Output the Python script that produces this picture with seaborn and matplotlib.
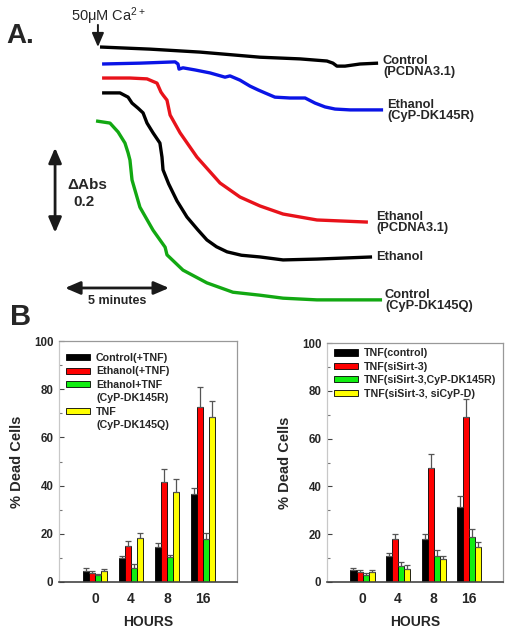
import matplotlib
matplotlib.use("Agg")
import matplotlib.pyplot as plt
from matplotlib.patches import Patch
import pandas as pd
import seaborn as sns

# ---------------- Panel A data: time (min) after Ca2+ addition, relative ΔAbs ----------------
ctrl_pc_t = [0.0, 2.40, 4.81, 7.69, 9.62, 10.91, 11.20, 11.39, 11.78, 12.50, 13.37]
ctrl_pc_a = [0.0, -0.005, -0.012, -0.024, -0.028, -0.033, -0.038, -0.045, -0.045, -0.040, -0.038]

eth_r_t = [0.10, 1.92, 3.61, 3.75, 3.80, 3.99, 4.57, 5.29, 6.01, 6.25, 6.73, 7.21, 7.60, 7.93,
           8.41, 9.13, 9.86, 10.34, 10.82, 11.30, 12.02, 13.61]
eth_r_a = [-0.040, -0.038, -0.035, -0.040, -0.052, -0.049, -0.054, -0.061, -0.071, -0.068, -0.078,
           -0.092, -0.101, -0.108, -0.118, -0.120, -0.120, -0.132, -0.141, -0.146, -0.148, -0.148]

eth_pc_t = [0.10, 1.44, 2.26, 2.74, 2.93, 3.03, 3.22, 3.37, 3.85, 4.66, 5.77, 6.73, 7.69, 8.80, 10.43, 12.88]
eth_pc_a = [-0.073, -0.073, -0.075, -0.085, -0.106, -0.113, -0.125, -0.160, -0.202, -0.259, -0.320,
            -0.353, -0.374, -0.393, -0.407, -0.412]

eth_t = [0.10, 0.96, 1.35, 1.54, 1.83, 2.07, 2.26, 2.55, 2.88, 2.98, 3.03, 3.30, 3.70, 4.18, 4.70,
         5.14, 5.60, 6.11, 6.80, 7.69, 8.80, 10.43, 13.08]
eth_a = [-0.108, -0.108, -0.118, -0.132, -0.144, -0.155, -0.179, -0.202, -0.226, -0.259, -0.289,
         -0.322, -0.362, -0.400, -0.430, -0.454, -0.470, -0.482, -0.490, -0.494, -0.501, -0.499, -0.494]

ctrl_q_t = [-0.19, 0.48, 0.87, 1.20, 1.35, 1.44, 1.54, 1.92, 2.55, 3.13, 3.22, 3.99, 5.14, 6.39,
            7.69, 8.80, 10.43, 13.56]
ctrl_q_a = [-0.174, -0.179, -0.200, -0.226, -0.249, -0.266, -0.313, -0.377, -0.431, -0.471, -0.489,
            -0.525, -0.555, -0.577, -0.584, -0.591, -0.595, -0.595]

trace_labels = ["Control\n(PCDNA3.1)", "Ethanol\n(CyP-DK145R)", "Ethanol\n(PCDNA3.1)",
                "Ethanol", "Control\n(CyP-DK145Q)"]
trace_colors = ["#000000", "#0a14e6", "#e8121a", "#000000", "#12a812"]

# ---------------- Panel B data ----------------
hours = ["0", "4", "8", "16"]

left_series = ["Control(+TNF)", "Ethanol(+TNF)", "Ethanol+TNF\n(CyP-DK145R)", "TNF\n(CyP-DK145Q)"]
left_ctrl = [4.7, 9.8, 14.4, 36.4]
left_eth = [3.9, 14.9, 41.4, 72.5]
left_eth_r = [2.9, 5.9, 10.2, 17.8]
left_tnf_q = [4.6, 18.1, 37.2, 68.3]
left_ctrl_err = [1.1, 1.0, 1.7, 2.5]
left_eth_err = [0.7, 2.0, 5.6, 8.3]
left_eth_r_err = [0.6, 1.4, 1.0, 2.4]
left_tnf_q_err = [0.8, 2.3, 5.7, 6.9]

right_series = ["TNF(control)", "TNF(siSirt-3)", "TNF(siSirt-3,CyP-DK145R)", "TNF(siSirt-3, siCyP-D)"]
right_ctrl = [5.2, 10.9, 17.9, 31.4]
right_sirt = [4.2, 17.9, 47.9, 69.0]
right_sirt_r = [3.1, 6.7, 10.8, 18.8]
right_sirt_cyp = [4.2, 5.6, 9.5, 14.6]
right_ctrl_err = [0.7, 1.4, 2.3, 4.5]
right_sirt_err = [1.0, 2.3, 5.8, 7.7]
right_sirt_r_err = [0.7, 1.7, 2.4, 3.5]
right_sirt_cyp_err = [1.0, 1.4, 1.4, 2.1]

bar_colors = ["#000000", "#ff0000", "#11ee11", "#ffff00"]

# ---------------- style ----------------
sns.set_theme(style="white")
plt.rcParams["font.family"] = ["Liberation Sans", "DejaVu Sans"]
plt.rcParams["mathtext.fontset"] = "custom"
plt.rcParams["mathtext.rm"] = "Liberation Sans"
plt.rcParams["mathtext.it"] = "Liberation Sans:italic"
plt.rcParams["mathtext.bf"] = "Liberation Sans:bold"

W, H = 510, 629
fig = plt.figure(figsize=(W / 100, H / 100), dpi=100)


def fx(x):
    return x / W


def fy(y):
    return 1 - y / H


# ---------------- Panel A ----------------
PX_PER_MIN = 20.8
PX_PER_ABS = 425.0
X0, Y0 = 100, 47          # pixel position of t=0, ΔAbs=0
A_TOP, A_BOT = 0, 320
axA = fig.add_axes([0, fy(A_BOT), 1, (A_BOT - A_TOP) / H])
axA.set_xlim(-X0 / PX_PER_MIN, (W - X0) / PX_PER_MIN)
axA.set_ylim((Y0 - A_BOT) / PX_PER_ABS, (Y0 - A_TOP) / PX_PER_ABS)
axA.axis("off")

traces = [(ctrl_pc_t, ctrl_pc_a), (eth_r_t, eth_r_a), (eth_pc_t, eth_pc_a), (eth_t, eth_a), (ctrl_q_t, ctrl_q_a)]
for (t, a), c in zip(traces, trace_colors):
    sns.lineplot(x=t, y=a, sort=False, estimator=None, color=c, lw=2.4, ax=axA)
for ln in axA.get_lines():
    ln.set_solid_joinstyle("round")
    ln.set_solid_capstyle("butt")

# Ca2+ addition arrow
axA.annotate("", xy=(-0.1, 0.0), xytext=(-0.1, 0.052),
             arrowprops=dict(arrowstyle="-|>,head_length=0.7,head_width=0.3", color="k", lw=1.4,
                             mutation_scale=12, shrinkA=0, shrinkB=0))
# scale arrows
axA.annotate("", xy=(-2.16, -0.237), xytext=(-2.16, -0.437),
             arrowprops=dict(arrowstyle="<|-|>,head_length=0.7,head_width=0.3", color="k", lw=2.0,
                             mutation_scale=13, shrinkA=0, shrinkB=0))
axA.annotate("", xy=(-1.68, -0.567), xytext=(3.32, -0.567),
             arrowprops=dict(arrowstyle="<|-|>,head_length=0.7,head_width=0.3", color="k", lw=2.0,
                             mutation_scale=13, shrinkA=0, shrinkB=0))

fig.text(fx(6), fy(36), "A.", fontsize=20, fontweight="bold", ha="left", va="center")
fig.text(fx(71), fy(16), r"50μM Ca$^{2+}$", fontsize=10.5, ha="left", va="center")
fig.text(fx(67), fy(185), "ΔAbs", fontsize=11, fontweight="bold", ha="left", va="center")
fig.text(fx(73), fy(202), "0.2", fontsize=11, fontweight="bold", ha="left", va="center")
fig.text(fx(117), fy(301), "5 minutes", fontsize=9, fontweight="bold", ha="center", va="center")

label_pos = [(383, 55), (387, 99), (376, 211), (376, 251), (385, 289)]
for lab, (x, y) in zip(trace_labels, label_pos):
    fig.text(fx(x), fy(y), lab, fontsize=9.3, fontweight="bold", ha="left", va="top", linespacing=0.92)

fig.text(fx(10), fy(317), "B", fontsize=21, fontweight="bold", ha="left", va="center")


# ---------------- Panel B ----------------
def bar_panel(rect, series, values, errs, legend_anchor):
    ax = fig.add_axes(rect)
    df = pd.DataFrame({
        "hour": [h for _ in series for h in hours],
        "series": [s for s in series for _ in hours],
        "value": [v for vals in values for v in vals],
    })
    sns.barplot(data=df, x="hour", y="value", hue="series", order=hours, hue_order=series,
                palette=bar_colors, width=0.68, saturation=1, edgecolor="black", linewidth=0.6,
                legend=False, ax=ax)
    for cont, err in zip(ax.containers, errs):
        for bar, e in zip(cont, err):
            xc = bar.get_x() + bar.get_width() / 2
            ax.errorbar(xc, bar.get_height(), yerr=[[0], [e]], fmt="none", ecolor="#555555",
                        elinewidth=0.9, capsize=2.5, capthick=0.9, zorder=1)
    ax.set_ylim(0, 100)
    ax.set_xlim(-1.0, 3.95)
    ax.set_yticks([0, 20, 40, 60, 80, 100])
    ax.set_yticks([10, 30, 50, 70, 90], minor=True)
    ax.tick_params(axis="y", which="major", direction="in", length=3.5, width=0.8, color="#444444",
                   labelsize=8.3, pad=4, left=True)
    ax.tick_params(axis="y", which="minor", direction="in", length=1.8, width=0.8, color="#777777", left=True)
    ax.tick_params(axis="x", length=0, labelsize=10, pad=7)
    for lab in ax.get_yticklabels() + ax.get_xticklabels():
        lab.set_fontweight("bold")
    ax.spines["left"].set_color("#c8c8c8")
    ax.spines["top"].set_color("#999999")
    ax.spines["right"].set_color("#999999")
    ax.spines["bottom"].set_color("#444444")
    for s in ["left", "top", "right"]:
        ax.spines[s].set_linewidth(0.9)
    ax.spines["bottom"].set_linewidth(1.2)
    ax.set_ylabel("% Dead Cells", fontsize=10.5, fontweight="bold", labelpad=7)
    ax.set_xlabel("HOURS", fontsize=10, fontweight="bold", labelpad=7)
    # legend: one row per text line, colour box on the first line of each entry
    handles, labels = [], []
    for s, c in zip(series, bar_colors):
        for i, line in enumerate(s.split("\n")):
            if i == 0:
                handles.append(Patch(facecolor=c, edgecolor="black", lw=0.6))
            else:
                handles.append(Patch(facecolor="none", edgecolor="none"))
            labels.append(line)
    ax.legend(handles, labels, loc="upper left", bbox_to_anchor=legend_anchor, frameon=False,
              prop={"weight": "bold", "size": 7.7}, handlelength=2.2, handleheight=0.5,
              handletextpad=0.6, labelspacing=0.32, borderpad=0, borderaxespad=0)
    return ax


axL = bar_panel([fx(59), fy(582), (237 - 59) / W, (582 - 341) / H], left_series,
                [left_ctrl, left_eth, left_eth_r, left_tnf_q],
                [left_ctrl_err, left_eth_err, left_eth_r_err, left_tnf_q_err], (0.04, 0.95))
axR = bar_panel([fx(327), fy(582), (503 - 327) / W, (582 - 343) / H], right_series,
                [right_ctrl, right_sirt, right_sirt_r, right_sirt_cyp],
                [right_ctrl_err, right_sirt_err, right_sirt_r_err, right_sirt_cyp_err], (0.04, 0.978))

fig.savefig("out.png", dpi=100)
